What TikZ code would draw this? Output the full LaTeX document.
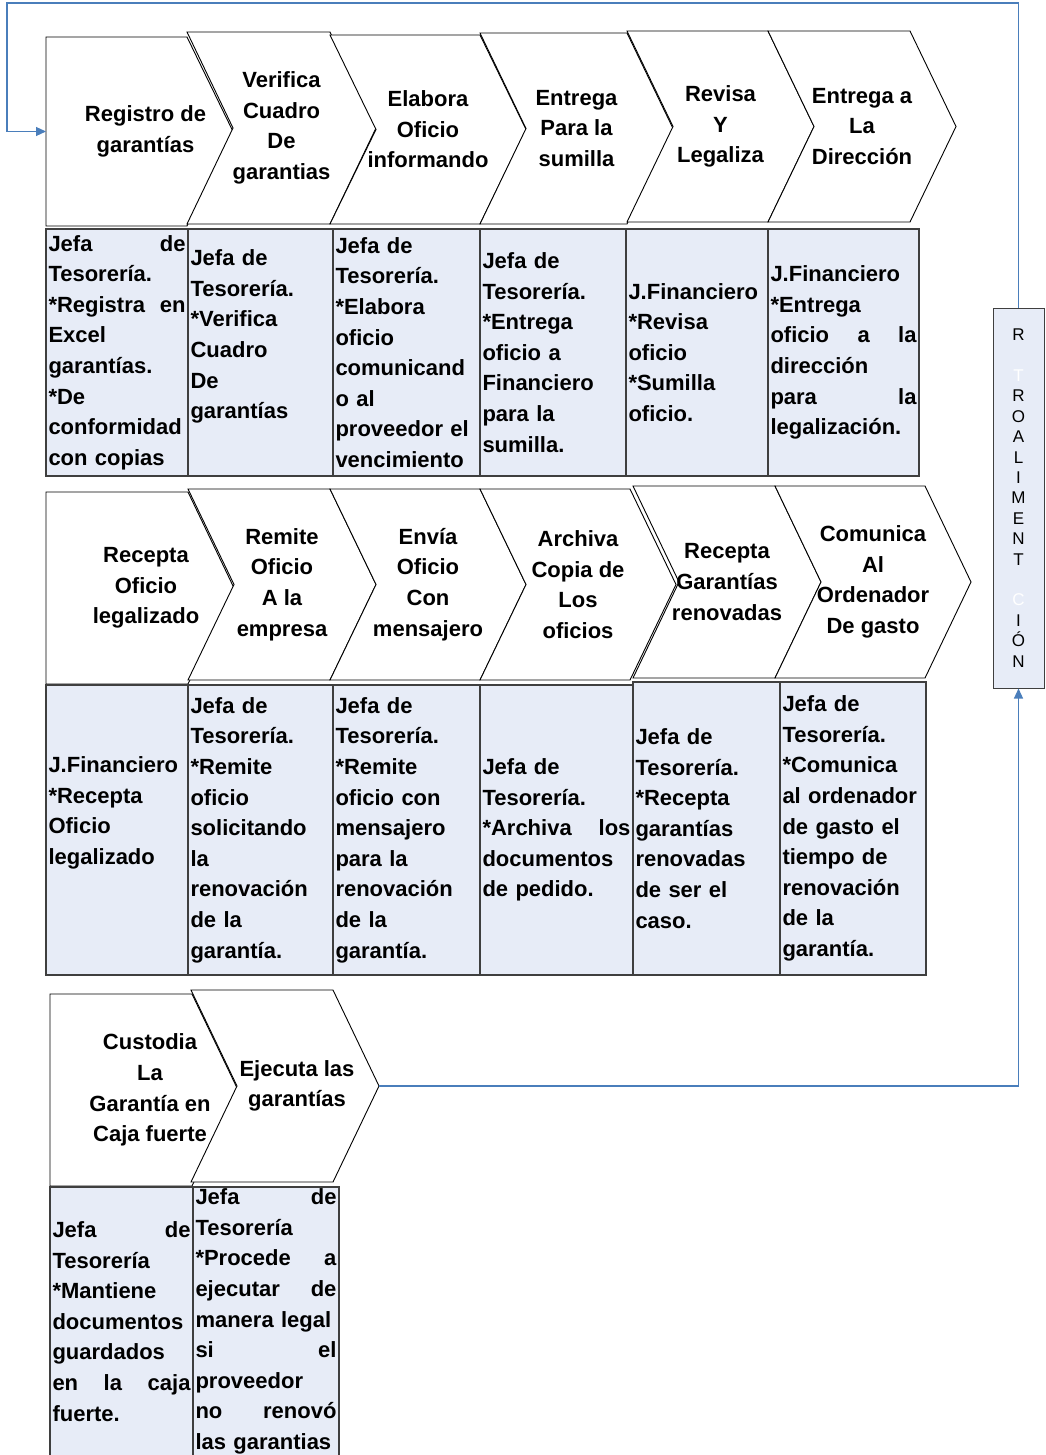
\documentclass[tikz,border=0pt]{standalone}
\usepackage{fontspec}
\setmainfont{Liberation Sans}
\usetikzlibrary{arrows.meta}
\definecolor{fbblue}{HTML}{4A7EBB}
\definecolor{cellfill}{HTML}{E7ECF7}
\definecolor{cellline}{HTML}{3F3F3F}

% chevron: [text shift right], name, left, right, top, bottom, notch depth, text
\newcommand{\stepchev}[8][0]{%
  \draw[chevline] (#3,#5) -- (#4,#5) -- ({#4+46},{(#5+#6)/2}) -- (#4,#6)
    -- (#3,#6) -- ({#3+#7},{(#5+#6)/2}) -- cycle;
  \node[steptext] (#2) at ({(#3+#4+46)/2+#1},{(#5+#6)/2}) {#8};
  \coordinate (#2-tip) at ({#4+46},{(#5+#6)/2});
  \coordinate (#2-in) at ({#3+#7},{(#5+#6)/2});
}
% cell: [text shift up], name, left, right, top, bottom, text
\newcommand{\taskcell}[7][0]{%
  \node[cellbox, minimum width={#4-#3}, minimum height={#6-#5}] (#2)
    at ({(#3+#4)/2},{(#5+#6)/2}) {};
  \pgfmathsetmacro{\cellw}{#4-#3-5}
  \node[celltext, text width=\cellw pt] at ([yshift=#1pt]#2.center) {#7};
}

\begin{document}
\begin{tikzpicture}[
    x=1pt, y=-1pt,
    chevline/.style={draw=black, line width=0.9pt, fill=white},
    steptext/.style={font=\fontsize{22}{30.6}\selectfont\bfseries, align=center, inner sep=0pt},
    cellbox/.style={draw=cellline, line width=1.2pt, fill=cellfill, inner sep=0pt, outer sep=0pt},
    celltext/.style={font=\fontsize{22}{30.6}\selectfont\bfseries, align=left, inner sep=0pt},
    retrobox/.style={draw=cellline, line width=1pt, fill=cellfill,
        minimum width=51pt, minimum height=380pt, inner sep=0pt,
        font=\fontsize{17}{20.4}\selectfont, align=center},
    fb/.style={draw=fbblue, line width=1.2pt, -{Triangle[length=10pt,width=9pt]}},
]
\useasboundingbox (0,0) rectangle (1045,1455);

% ── Row 1 ──
\stepchev[6]{reg}{46}{187}{37}{226}{0}{Registro de\\garantías}
\stepchev{ver}{187}{330}{32}{224}{46}{Verifica\\Cuadro\\De\\garantias}
\stepchev{ela}{330}{480}{35}{224}{46}{Elabora\\Oficio\\informando}
\stepchev{ent}{480}{627}{33}{224}{46}{Entrega\\Para la\\sumilla}
\stepchev{rev}{627}{768}{31}{222}{46}{Revisa\\Y\\Legaliza}
\stepchev{dir}{768}{910}{31}{222}{46}{Entrega a\\La\\Dirección}

\taskcell{c11}{46}{188}{229}{476}{Jefa\hfill de\\Tesorería.\\{}*Registra\hfill en\\Excel\\garantías.\\{}*De\\conformidad\\con copias}
\taskcell[16]{c12}{188}{333}{229}{476}{Jefa de\\Tesorería.\\{}*Verifica\\Cuadro\\De\\garantías}
\taskcell{c13}{333}{480}{229}{476}{Jefa de\\Tesorería.\\{}*Elabora\\oficio\\comunicand\\o al\\proveedor el\\vencimiento}
\taskcell{c14}{480}{626}{229}{476}{Jefa de\\Tesorería.\\{}*Entrega\\oficio a\\Financiero\\para la\\sumilla.}
\taskcell{c15}{626}{768}{229}{476}{J.Financiero\\{}*Revisa\\oficio\\{}*Sumilla\\oficio.}
\taskcell{c16}{768}{919}{229}{476}{J.Financiero\\{}*Entrega\\oficio\hfill a\hfill la\\dirección\\para\hfill la\\legalización.}

% ── Row 2 ──
\stepchev[6]{rof}{46}{188}{492}{684}{0}{Recepta\\Oficio\\legalizado}
\stepchev{rem}{188}{330}{489}{680}{46}{Remite\\Oficio\\A la\\empresa}
\stepchev{env}{330}{480}{489}{680}{46}{Envía\\Oficio\\Con\\mensajero}
\stepchev{arc}{480}{630}{489}{680}{46}{Archiva\\Copia de\\Los\\oficios}
\stepchev{rga}{633}{775}{486}{678}{46}{Recepta\\Garantías\\renovadas}
\stepchev{com}{775}{925}{486}{678}{46}{Comunica\\Al\\Ordenador\\De gasto}

\taskcell[17]{c21}{46}{188}{685}{975}{J.Financiero\\{}*Recepta\\Oficio\\legalizado}
\taskcell{c22}{188}{333}{685}{975}{Jefa de\\Tesorería.\\{}*Remite\\oficio\\solicitando\\la\\renovación\\de la\\garantía.}
\taskcell{c23}{333}{480}{685}{975}{Jefa de\\Tesorería.\\{}*Remite\\oficio con\\mensajero\\para la\\renovación\\de la\\garantía.}
\taskcell{c24}{480}{633}{685}{975}{Jefa de\\Tesorería.\\{}*Archiva\hfill los\\documentos\\de pedido.}
\taskcell{c25}{633}{780}{682}{975}{Jefa de\\Tesorería.\\{}*Recepta\\garantías\\renovadas\\de ser el\\caso.}
\taskcell{c26}{780}{926}{682}{975}{Jefa de\\Tesorería.\\{}*Comunica\\al ordenador\\de gasto el\\tiempo de\\renovación\\de la\\garantía.}

% ── Row 3 ──
\stepchev[6]{cus}{50}{192}{994}{1186}{0}{Custodia\\La\\Garantía en\\Caja fuerte}
\stepchev[12]{eje}{191}{333}{990}{1182}{46}{Ejecuta las\\garantías}

\taskcell{c31}{50}{193}{1187}{1456}{Jefa\hfill de\\Tesorería\\{}*Mantiene\\documentos\\guardados\\en\hfill la\hfill caja\\fuerte.}
\taskcell{c32}{193}{339}{1187}{1456}{Jefa\hfill de\\Tesorería\\{}*Procede\hfill a\\ejecutar\hfill de\\manera legal\\si\hfill el\\proveedor\\no\hfill renovó\\las garantias}

% ── Feedback loop ──
\node[retrobox] (retro) at (1018.5,498) {R\\\textcolor{cellfill}{E}\\\textcolor{white}{T}\\R\\O\\A\\L\\I\\M\\E\\N\\T\\\textcolor{cellfill}{A}\\\textcolor{white}{C}\\I\\Ó\\N};
\draw[fb] (eje-tip) -| (retro.south);
\draw[fb] (retro.north) |- (7,3) |- (reg-in);

\end{tikzpicture}
\end{document}
